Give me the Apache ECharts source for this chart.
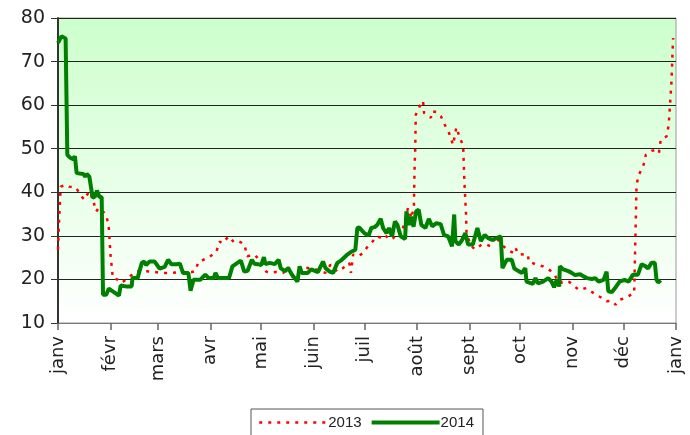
<!DOCTYPE html>
<html>
<head>
<meta charset="utf-8">
<script src="https://cdn.jsdelivr.net/npm/echarts@6/dist/echarts.min.js"></script>
<style>
  html, body { margin: 0; padding: 0; background: #fff; }
  #chart { width: 690px; height: 435px; }
</style>
</head>
<body>
<div id="chart"></div>
<script>
// month starts (day of year) and their labels
const monthDays = [0, 31, 59, 90, 120, 151, 181, 212, 243, 273, 304, 334, 365]
const monthLabels = ['janv', 'févr', 'mars', 'avr', 'mai', 'juin', 'juil', 'août', 'sept', 'oct', 'nov', 'déc', 'janv']

// 2013 series
const days2013 = [0, 0.7, 1.3, 1.6, 4.8, 6.6, 10.6, 13.7, 15.7, 17.3, 18.8, 21, 22.6, 24, 28.5, 30, 31, 32.4, 35, 37.6,
  42.5, 46.5, 52.3, 57.2, 61.2, 67, 73, 79, 81, 83, 88.5, 93.5, 95.4, 97, 100.8, 104, 107, 110, 111.8, 116,
  119, 123, 125, 129, 133, 135.8, 139.8, 144, 148, 151, 155, 158, 161, 165, 168, 172, 173, 174.3, 177.3, 180,
  183, 186, 188.5, 191, 193, 196, 198, 201, 203, 206.7, 208.8, 210.2, 210.6, 211, 211.3, 213.7, 215.6, 216.2, 220.2, 221,
  223.6, 226.2, 228.4, 230.7, 233.3, 235.3, 237.3, 239.3, 239.8, 240.2, 241, 241.3, 244.3, 246.3, 250.3, 253, 255.5, 258.4, 262, 264.3,
  266.9, 269, 270.3, 271.8, 277.6, 278, 282.6, 286.5, 290.5, 293.4, 297, 297.4, 302, 307.6, 312, 317, 320.5, 324, 327, 329.3,
  331.4, 335, 340.3, 341.1, 341.7, 343, 345.6, 347.2, 350.6, 352.5, 354.9, 356, 359.4, 360.7, 361.7, 362.3, 362.9, 363.3]
const values2013 = [26.8, 34.2, 39.1, 41.3, 41.7, 41.3, 41.1, 39.1, 38.3, 39.5, 40.3, 37.8, 35.6, 36.4, 34.9, 31.8, 25.7, 20.3, 20, 19.2,
  20.7, 21.9, 21.9, 21.7, 21.5, 21.5, 21.7, 21.7, 21.9, 24.1, 24.9, 26.3, 28.7, 28.3, 29.9, 28.5, 28.7, 28.1, 25.3, 25.7,
  24.5, 21.8, 21.5, 21.7, 21.5, 23, 19.5, 22.6, 22.6, 22.5, 21.9, 21.5, 23.4, 21.8, 22.5, 23.8, 21.5, 25.7, 25.3, 26,
  27.6, 28.8, 29.9, 29.5, 30.2, 29.1, 29.5, 31, 30.6, 36.4, 34, 37.1, 45.6, 50.2, 57.8, 59.8, 61, 58.2, 57.1, 58.6,
  58.4, 57.4, 55.5, 53.9, 50.9, 54.9, 52.5, 50.7, 44.8, 41, 34.9, 30.3, 27.6, 26.9, 28, 28, 27.6, 29.9, 28, 27.2,
  26.5, 26.1, 27.2, 25.8, 25.7, 24.1, 23.4, 23, 22.1, 21.1, 18, 19.5, 19.4, 17.6, 18, 16.7, 15.9, 15, 15.1, 14.2,
  15.3, 15.7, 16.9, 31, 41.7, 44, 45.9, 48.6, 49.5, 49.7, 49, 52.1, 52.8, 55.5, 61.6, 65.1, 71.6, 75.4]

// 2014 series
const days2014 = [0, 2, 3, 4.5, 5.5, 7, 9, 10, 11, 15, 16, 17, 18.5, 19.5, 20.5, 22, 23, 24.5, 25.8, 26.6,
  28.5, 30, 33, 36, 37, 40, 43.5, 44, 47, 48, 49.5, 51, 52, 54, 57, 58, 60, 63, 65, 67,
  70, 72, 73.8, 77, 78.3, 80, 84, 87, 89, 92, 93, 94.5, 101, 103, 106, 108, 110, 112, 114.5, 116,
  118, 120, 121.6, 122.5, 125, 128, 130.3, 131.5, 134, 136, 138, 141.4, 142.7, 144, 147.5, 149.5, 153.5, 156.5, 158, 160.5,
  162.5, 165, 167, 170.3, 173, 175.6, 176.8, 178, 181, 183.5, 185, 187, 188.5, 190.6, 192, 194, 195.5, 197.3, 199, 200.5,
  202.4, 205, 205.8, 207.2, 208.5, 210, 211.5, 213, 214.6, 217, 219, 221, 223.5, 226, 228, 230.4, 232.7, 234, 234.7, 236.7,
  238.3, 240.6, 242.2, 245, 247.7, 249.7, 252, 254, 256.5, 259, 261.5, 262.5, 265, 266, 268, 269.5, 272, 274, 276, 276.7,
  280.5, 282, 283.5, 286.5, 289.5, 291.5, 293, 294.5, 296, 296.4, 298.4, 301.4, 303.4, 305.4, 308.4, 310.4, 312.4, 315.3, 317.3, 319.3,
  322.2, 324, 325, 327.2, 328.8, 331.7, 334.6, 337, 339.6, 342.5, 344.7, 347, 348.5, 350.5, 352.5, 353.5, 354.5, 356]
const values2014 = [74.3, 75.8, 75.4, 75.3, 48.6, 48, 47.6, 48.3, 44.4, 44.2, 43.6, 44.2, 43.6, 43.6, 38.7, 39.1, 40.4, 38.9, 38.9, 16.5,
  16.5, 17.9, 17.1, 16.3, 18.6, 18.4, 18.4, 20.3, 20.3, 20.6, 23.8, 24.1, 23.3, 24.1, 24.1, 23.6, 22.5, 22.9, 24.5, 23.5,
  23.5, 23.6, 21.5, 21.5, 17.4, 19.9, 19.9, 21.1, 20.3, 20.3, 21.5, 20.3, 20.3, 23, 23.8, 24.3, 21.8, 22, 24.5, 23.6,
  23.5, 23.3, 25.1, 23.5, 23.8, 23.5, 24.5, 22.6, 21.9, 22.6, 21.2, 19.5, 23, 21.5, 21.5, 22.3, 21.7, 24.1, 22.6, 21.8,
  21.5, 23.8, 24.3, 25.5, 26.3, 26.8, 31.8, 31.9, 30.6, 30.1, 31.8, 32, 32.5, 33.9, 31.8, 30.6, 31.8, 29.9, 33.3, 32.5,
  29.9, 29.3, 35.6, 32.5, 34.4, 32.1, 35.6, 36, 32.5, 31.8, 33.9, 32.2, 32.9, 32.7, 30.2, 29.9, 27.6, 34.9, 28.8, 28,
  28.8, 30.6, 28, 28, 31.8, 28.8, 30.2, 29.5, 29.1, 29.5, 29.9, 22.6, 24.5, 24.1, 24.5, 22.5, 21.9, 21.5, 22.6, 19.5,
  19, 20.3, 19.1, 19.5, 20.3, 19.5, 18.2, 19.9, 18.4, 23, 22.3, 21.9, 21.5, 21, 21.2, 20.7, 20.3, 20.1, 20.3, 19.5,
  19.9, 21.8, 17.3, 17.1, 17.9, 19.5, 19.9, 19.5, 21.1, 21.1, 23.5, 23, 22.5, 23.8, 23.8, 19.9, 19.3, 19.8]

const chart = echarts.init(document.getElementById('chart'))

const option = {
  animation: false,
  backgroundColor: '#fff',
  grid: {
    left: 58,
    right: 14,
    top: 18,
    bottom: 112,
    show: true,
    borderColor: '#999',
    borderWidth: 1,
    backgroundColor: new echarts.graphic.LinearGradient(0, 0, 0, 1, [
      { offset: 0, color: '#ccffcc' },
      { offset: 1, color: '#ffffff' }
    ])
  },
  legend: {
    left: 251,
    top: 409,
    padding: [6, 9, 20, 7],
    itemGap: 8,
    itemWidth: 68,
    itemHeight: 14,
    borderColor: '#555',
    borderWidth: 1,
    backgroundColor: '#fff',
    itemStyle: { opacity: 0 },
    textStyle: {
      fontFamily: 'Liberation Sans Narrow, Liberation Sans, sans-serif',
      fontSize: 15,
      color: '#222',
      padding: [0, 0, 0, -4]
    },
    data: [
      { name: '2013', lineStyle: { width: 2.5 } },
      { name: '2014', lineStyle: { width: 4 } }
    ]
  },
  xAxis: {
    type: 'value',
    min: 0,
    max: 365,
    splitLine: { show: false },
    axisLine: { lineStyle: { color: '#777', width: 1 } },
    axisTick: {
      customValues: monthDays,
      length: 7,
      lineStyle: { color: '#666', width: 1.5 }
    },
    axisLabel: {
      customValues: monthDays,
      rotate: 90,
      margin: 13,
      fontFamily: 'DejaVu Sans, sans-serif',
      fontSize: 18,
      color: '#222',
      formatter: (value) => monthLabels[monthDays.indexOf(value)]
    }
  },
  yAxis: {
    type: 'value',
    min: 10,
    max: 80,
    interval: 10,
    axisLine: { show: true, lineStyle: { color: '#333', width: 2 } },
    axisTick: { show: true, length: 7, lineStyle: { color: '#333' } },
    axisLabel: {
      margin: 13,
      fontFamily: 'DejaVu Sans, sans-serif',
      fontSize: 19,
      color: '#222'
    },
    splitLine: { lineStyle: { color: '#222', width: 1 } }
  },
  series: [
    {
      name: '2013',
      type: 'line',
      showSymbol: false,
      symbol: 'none',
      data: days2013.map((d, i) => [d, values2013[i]]),
      lineStyle: { color: '#ff0000', width: 2.5, type: [3, 6] },
      itemStyle: { color: '#ff0000' }
    },
    {
      name: '2014',
      type: 'line',
      showSymbol: false,
      symbol: 'none',
      data: days2014.map((d, i) => [d, values2014[i]]),
      lineStyle: { color: '#008000', width: 4 },
      itemStyle: { color: '#008000' }
    }
  ]
}

chart.setOption(option)
</script>
</body>
</html>
